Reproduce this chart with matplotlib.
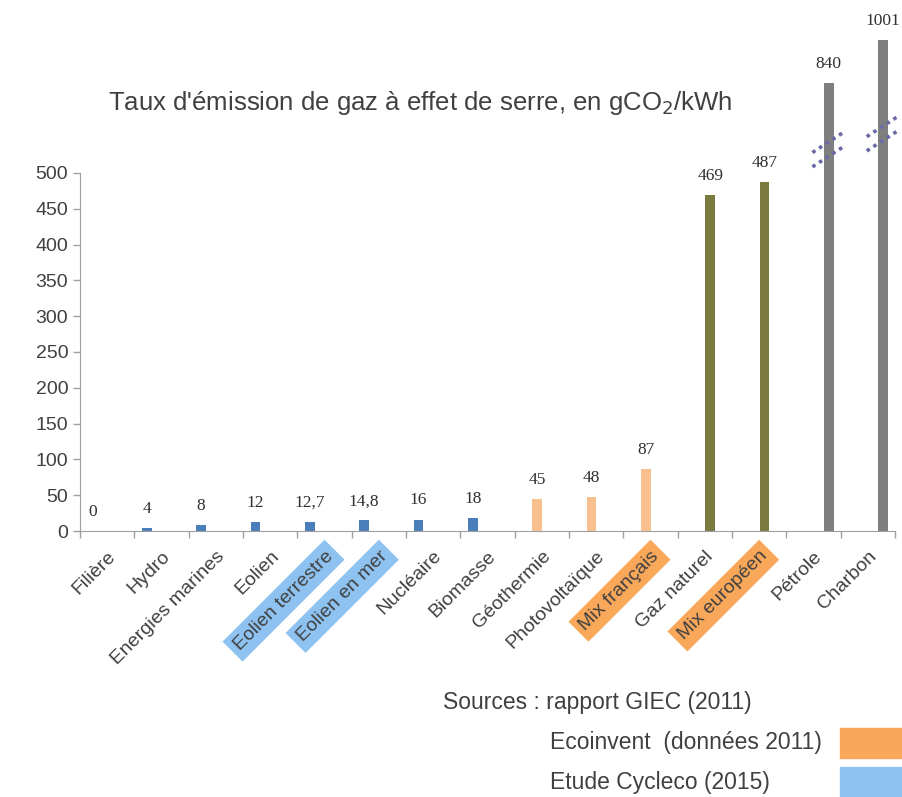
import numpy as np
import matplotlib
matplotlib.use("Agg")
import matplotlib.pyplot as plt

categories = ["Filière", "Hydro", "Energies marines", "Eolien", "Eolien terrestre",
              "Eolien en mer", "Nucléaire", "Biomasse", "Géothermie", "Photovoltaïque",
              "Mix français", "Gaz naturel", "Mix européen", "Pétrole", "Charbon"]
values = [0, 4, 8, 12, 12.7, 14.8, 16, 18, 45, 48, 87, 469, 487, 840, 1001]
value_labels = ["0", "4", "8", "12", "12,7", "14,8", "16", "18", "45", "48", "87",
                "469", "487", "840", "1001"]
# series index of each category (0 blue, 1 light orange, 2 olive, 3 grey)
series = [0, 0, 0, 0, 0, 0, 0, 0, 1, 1, 1, 2, 2, 3, 3]
series_colors = ["#4a7ebb", "#f9c08f", "#7a7a3e", "#7f7f7f"]

highlight_blue = ["Eolien terrestre", "Eolien en mer"]
highlight_orange = ["Mix français", "Mix européen"]

legend_texts = ["Ecoinvent  (données 2011)", "Etude Cycleco (2015)"]
legend_colors = ["#f9a85a", "#8ec2f0"]

# compressed scale above 500 to mimic the broken axis
K = 0.37


def fwd(v):
    v = np.asarray(v, dtype=float)
    return np.where(v <= 500, v, 500 + (v - 500) * K)


def inv(u):
    u = np.asarray(u, dtype=float)
    return np.where(u <= 500, u, 500 + (u - 500) / K)


fig = plt.figure(figsize=(9.03, 7.97), dpi=100)
ax = fig.add_axes([80 / 903, 266 / 797, 815 / 903, 521 / 797])
ax.set_yscale("function", functions=(fwd, inv))

x = np.arange(len(categories))
width = 0.18
offsets = np.array([-0.27, -0.085, 0.1, 0.28])
bar_x = x + offsets[series]
colors = [series_colors[s] for s in series]

bars = ax.bar(bar_x, values, width=width, color=colors, zorder=2)
ax.bar_label(bars, labels=value_labels, padding=8, fontsize=12.5,
             family="Liberation Serif", color="#303030")

ax.set_xlim(-0.5, len(categories) - 0.5)
ax.set_ylim(0, 1115)
ax.set_yticks(np.arange(0, 501, 50))
ax.tick_params(axis="y", labelsize=14, labelcolor="#404040", color="#a0a0a0",
               length=5, width=1)
ax.set_xticks(x)
ax.set_xticklabels(categories, rotation=45, ha="right", rotation_mode="anchor",
                   fontsize=14, color="#404040", family="Liberation Sans")
ax.tick_params(axis="x", length=0, pad=12)
ax.set_xticks(np.arange(-0.5, len(categories), 1), minor=True)
ax.tick_params(axis="x", which="minor", length=5, color="#a0a0a0", width=1)

for lab in ax.get_xticklabels():
    t = lab.get_text()
    if t in highlight_blue:
        lab.set_bbox(dict(facecolor="#8ec2f0", edgecolor="none", pad=4))
    elif t in highlight_orange:
        lab.set_bbox(dict(facecolor="#f9a85a", edgecolor="none", pad=4))

for lab in ax.get_yticklabels():
    lab.set_family("Liberation Sans")

for side in ["top", "right"]:
    ax.spines[side].set_visible(False)
ax.spines["left"].set_bounds(0, 500)
ax.spines["left"].set_color("#a0a0a0")
ax.spines["bottom"].set_color("#a0a0a0")
ax.patch.set_alpha(0)

# break marks on the two tallest bars
for i, ymid in [(13, 590), (14, 650)]:
    for dy in (-27, 27):
        xs = np.array([bar_x[i] - 0.3, bar_x[i] + 0.3])
        ys = np.array([ymid + dy - 40, ymid + dy + 40])
        ax.plot(xs, ys, linestyle=(0, (1, 1.2)), color="#6a6aa8", lw=2.6,
                zorder=3, clip_on=False)

fig.text(0.465, 1 - 103 / 797, "Taux d'émission de gaz à effet de serre, en gCO$_2$/kWh",
         ha="center", va="center", fontsize=18.5, color="#404040",
         family="Liberation Sans")

fig.text(443 / 903, 1 - 703 / 797, "Sources : rapport GIEC (2011)",
         ha="left", va="center", fontsize=16.5, color="#404040",
         family="Liberation Sans")
for k, (txt, col) in enumerate(zip(legend_texts, legend_colors)):
    yc = 1 - (743 + 39 * k) / 797
    fig.text(550 / 903, yc, txt, ha="left", va="center", fontsize=16.5,
             color="#404040", family="Liberation Sans")
    fig.patches.append(plt.Rectangle((840 / 903, yc - 15 / 797), 63 / 903, 30 / 797,
                                     transform=fig.transFigure, color=col,
                                     figure=fig))

fig.savefig("out.png", dpi=100, facecolor="white")
